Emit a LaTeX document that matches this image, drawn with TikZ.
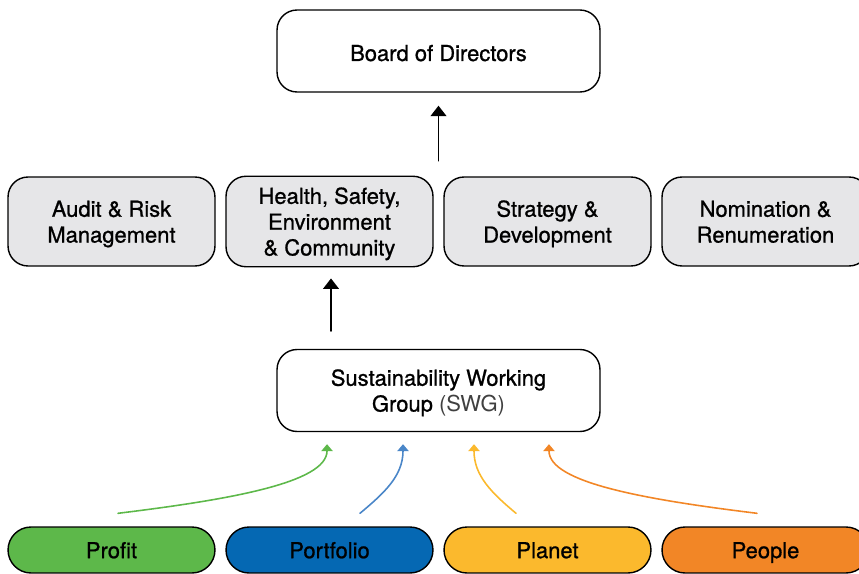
\documentclass[tikz,border=0pt]{standalone}
\usepackage{fontspec}
\setmainfont{TeX Gyre Heros}
\newfontfamily\medfont{TeX Gyre Heros}[FakeBold=0.9]
\usetikzlibrary{arrows.meta}
\definecolor{boxgray}{HTML}{E6E6E8}
\definecolor{profitgreen}{HTML}{5DB84A}
\definecolor{portblue}{HTML}{0568B3}
\definecolor{planetyellow}{HTML}{FBB92D}
\definecolor{peopleorange}{HTML}{F28626}
\definecolor{linkblue}{HTML}{4A86C8}
% label set a little lower inside its box
\newcommand{\boxlabel}[2][3.4pt]{\raisebox{0pt}[\dimexpr\height+#1\relax][\depth]{\begin{tabular}{@{}c@{}}#2\end{tabular}}}
\begin{document}
\begin{tikzpicture}[x=0.02cm, y=-0.02cm, line join=round, line cap=round,
  font=\medfont\fontsize{12.5}{14.7}\selectfont,
  board/.style={draw, line width=0.8pt, rounded corners=0.4cm, fill=white,
    minimum width=6.46cm, minimum height=1.64cm, inner sep=2pt},
  committee/.style={draw, line width=0.8pt, rounded corners=0.4cm, fill=boxgray,
    minimum width=4.14cm, minimum height=1.78cm, inner sep=2pt},
  pillar/.style={draw, line width=0.8pt, rounded corners=0.46cm,
    minimum width=4.14cm, minimum height=0.92cm, inner sep=2pt},
  uparrow/.style={-{Triangle[width=9pt,length=6pt]}, line width=1.1pt},
  feed/.style={-{Triangle[width=6.5pt,length=4pt]}, line width=0.9pt}]
% frame of the picture
\useasboundingbox (0,0) rectangle (859,574);
\clip (0,0) rectangle (859,574);
% top and middle boxes
\node[board] (board) at (438.5,51) {\boxlabel[5.5pt]{Board of Directors}};
\node[committee] (audit) at (111.5,221.5) {\boxlabel{Audit \& Risk\\Management}};
\node[committee] (hsec) at (329.5,221.5) {\boxlabel{Health, Safety,\\Environment\\\& Community}};
\node[committee] (strategy) at (547.5,221.5) {\boxlabel{Strategy \&\\Development}};
\node[committee] (nomination) at (765.5,221.5) {\boxlabel{Nomination \&\\Renumeration}};
\node[board] (swg) at (438.5,390.5) {\boxlabel{Sustainability Working\\Group {\normalfont\fontsize{12.5}{14.7}\selectfont\color{black!75}(SWG)}}};
% the four pillars
\node[pillar, fill=profitgreen] (profit) at (111.5,550) {\boxlabel{Profit}};
\node[pillar, fill=portblue] (portfolio) at (329.5,550) {\boxlabel{Portfolio}};
\node[pillar, fill=planetyellow] (planet) at (547.5,550) {\boxlabel{Planet}};
\node[pillar, fill=peopleorange] (people) at (765.5,550) {\boxlabel{People}};
% reporting lines
\draw[uparrow] ([yshift=-1.36cm]board.south) -- ([yshift=-0.26cm]board.south);
\draw[uparrow] ([xshift=0.03cm,yshift=0.36cm]swg.north -| hsec.south) -- ([xshift=0.03cm,yshift=-0.22cm]hsec.south);
% inputs into the SWG
\draw[feed, profitgreen] ([xshift=0.13cm,yshift=0.26cm]profit.north) to[out=7, in=-90, out looseness=1.3, in looseness=0.45] ([xshift=-2.23cm,yshift=-0.24cm]swg.south);
\draw[feed, linkblue] ([xshift=0.61cm,yshift=0.26cm]portfolio.north) to[out=40, in=-90] ([xshift=-0.71cm,yshift=-0.24cm]swg.south);
\draw[feed, planetyellow] ([xshift=-0.63cm,yshift=0.26cm]planet.north) to[out=140, in=-90] ([xshift=0.71cm,yshift=-0.24cm]swg.south);
\draw[feed, peopleorange] ([xshift=-0.17cm,yshift=0.26cm]people.north) to[out=173, in=-90, out looseness=1.3, in looseness=0.45] ([xshift=2.21cm,yshift=-0.24cm]swg.south);
\end{tikzpicture}
\end{document}
